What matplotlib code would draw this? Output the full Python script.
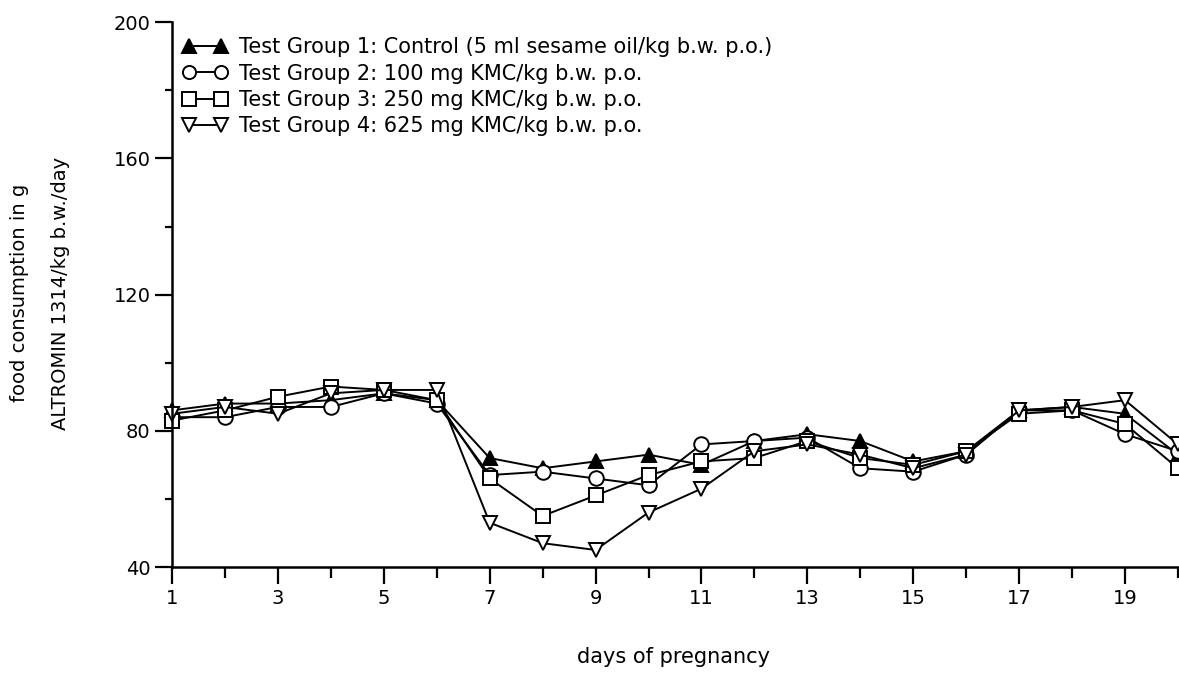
import matplotlib.pyplot as plt
import numpy as np

# days of pregnancy and food consumption per group
days = list(range(1, 21))
group1 = [86, 88, 88, 89, 91, 89, 72, 69, 71, 73, 70, 77, 79, 77, 71, 74, 86, 87, 85, 73]
group2 = [84, 84, 87, 87, 91, 88, 67, 68, 66, 64, 76, 77, 78, 69, 68, 73, 86, 86, 79, 74]
group3 = [83, 86, 90, 93, 92, 89, 66, 55, 61, 67, 71, 72, 77, 72, 70, 74, 85, 86, 82, 69]
group4 = [85, 87, 85, 91, 92, 92, 53, 47, 45, 56, 63, 74, 76, 73, 69, 73, 86, 87, 89, 76]

labels = ['Test Group 1: Control (5 ml sesame oil/kg b.w. p.o.)',
          'Test Group 2: 100 mg KMC/kg b.w. p.o.',
          'Test Group 3: 250 mg KMC/kg b.w. p.o.',
          'Test Group 4: 625 mg KMC/kg b.w. p.o.']
yticks = [40, 80, 120, 160, 200]
xticks = [1, 3, 5, 7, 9, 11, 13, 15, 17, 19]

plt.rcParams['font.family'] = ['DejaVu Sans']

fig = plt.figure(figsize=(11.79, 6.73), dpi=100)
ax = fig.add_axes([0.1459, 0.1575, 0.8532, 0.8095])

styles = [
    dict(marker='^', mfc='black', mec='black'),
    dict(marker='o', mfc='white', mec='black'),
    dict(marker='s', mfc='white', mec='black'),
    dict(marker='v', mfc='white', mec='black'),
]
for vals, lab, st in zip([group1, group2, group3, group4], labels, styles):
    ax.plot(days, vals, color='black', lw=1.4, ms=10.5, mew=1.4, label=lab,
            clip_on=False, **st)

ax.set_xlim(1, 20)
ax.set_ylim(40, 200)
ax.set_yticks(yticks)
ax.set_yticks([60, 100, 140, 180], minor=True)
ax.set_xticks(xticks)
ax.set_xticks([2, 4, 6, 8, 10, 12, 14, 16, 18, 20], minor=True)

ax.spines['top'].set_visible(False)
ax.spines['right'].set_visible(False)
for s in ['left', 'bottom']:
    ax.spines[s].set_linewidth(1.8)

ax.tick_params(axis='both', which='both', direction='out', width=1.6, labelsize=14)
ax.tick_params(axis='both', which='major', length=12)
ax.tick_params(axis='y', which='minor', length=5)
ax.tick_params(axis='x', which='minor', length=8)

# axis titles placed in figure pixels to match the scan
fig.text(673 / 1179, 1 - 657 / 673, 'days of pregnancy', fontsize=15,
         ha='center', va='center')
fig.text(20 / 1179, 1 - 293 / 673, 'food consumption in g', fontsize=14,
         rotation=90, ha='center', va='center')
fig.text(61 / 1179, 1 - 293 / 673, 'ALTROMIN 1314/kg b.w./day', fontsize=14,
         rotation=90, ha='center', va='center')

ax.legend(loc='upper left', bbox_to_anchor=(0.011, 0.972), frameon=False, fontsize=15,
          numpoints=2, handlelength=2.1, handletextpad=0.6, labelspacing=0.3,
          borderaxespad=0.0, borderpad=0.0, markerscale=0.9)

fig.savefig('out.png', dpi=100)
